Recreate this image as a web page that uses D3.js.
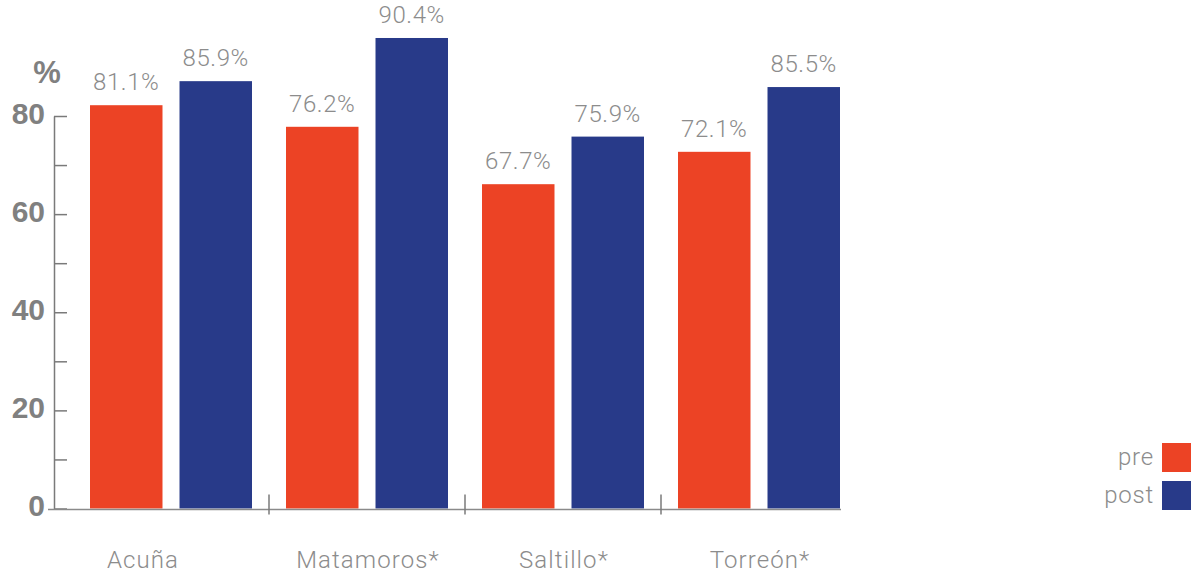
<!DOCTYPE html>
<html>
<head>
<meta charset="utf-8">
<script src="https://cdn.jsdelivr.net/npm/d3@7"></script>
<style>
  html, body { margin: 0; padding: 0; background: #fff; }
  svg { display: block; }
</style>
</head>
<body>
<svg id="chart" width="1199" height="577"></svg>
<script>
// ---- data ----
const categories = ["Acuña", "Matamoros*", "Saltillo*", "Torreón*"];
const seriesNames = ["pre", "post"];
// values printed above the bars
const preValues = [81.1, 76.2, 67.7, 72.1];
const postValues = [85.9, 90.4, 75.9, 85.5];
// bar heights as drawn in the picture (read against the axis)
const preBarHeights = [82.2, 77.8, 66.1, 72.7];
const postBarHeights = [87.1, 95.9, 75.8, 85.9];
const yTickValues = [0, 10, 20, 30, 40, 50, 60, 70, 80];
const yTickLabels = [0, 20, 40, 60, 80];
const yUnitLabel = "%";

const colors = { pre: "#ec4325", post: "#283a89" };
const textGray = "#8c8c8c";
const axisGray = "#7a7a7a";
const lightFont = "Roboto, 'Liberation Sans', sans-serif";

const svg = d3.select("#chart");

const y = d3.scaleLinear().domain([0, 80]).range([508.5, 116]);
const x0 = d3.scaleBand().domain(categories).range([73, 857]).paddingInner(0).paddingOuter(0);
const x1 = d3.scaleBand().domain(seriesNames).range([0, x0.bandwidth()]).paddingInner(0.19).paddingOuter(0.19);
const color = d3.scaleOrdinal().domain(seriesNames).range([colors.pre, colors.post]);

const rows = categories.map((c, i) => ({
  cat: c,
  bars: [
    { s: "pre", h: preBarHeights[i], v: preValues[i] },
    { s: "post", h: postBarHeights[i], v: postValues[i] }
  ]
}));

// bars
const groups = svg.append("g").selectAll("g").data(rows).join("g")
  .attr("transform", d => `translate(${x0(d.cat)},0)`);

groups.selectAll("rect").data(d => d.bars).join("rect")
  .attr("x", d => x1(d.s))
  .attr("width", x1.bandwidth())
  .attr("y", d => y(d.h))
  .attr("height", d => y(0) - y(d.h))
  .attr("fill", d => color(d.s));

const fmt = d3.format(".1f");
groups.selectAll("text.val").data(d => d.bars).join("text")
  .attr("class", "val")
  .attr("x", d => x1(d.s) + x1.bandwidth() / 2)
  .attr("y", d => y(d.h) - 15)
  .attr("text-anchor", "middle")
  .attr("font-family", lightFont)
  .attr("font-weight", 300)
  .attr("font-size", 24)
  .attr("letter-spacing", 0.6)
  .attr("fill", textGray)
  .text(d => fmt(d.v) + "%");

// y axis (ticks inside)
const yAxis = svg.append("g")
  .attr("transform", "translate(54,0)")
  .call(d3.axisRight(y).tickValues(yTickValues).tickSize(13).tickSizeOuter(0).tickFormat(""));
yAxis.select(".domain").attr("stroke", axisGray).attr("stroke-width", 1.5);
yAxis.selectAll(".tick line").attr("stroke", axisGray).attr("stroke-width", 1.5);

// y tick labels
const yLab = svg.append("g")
  .attr("transform", "translate(54,0)")
  .call(d3.axisLeft(y).tickValues(yTickLabels).tickSize(0).tickPadding(9));
yLab.select(".domain").remove();
yLab.selectAll("text")
  .attr("dy", "0.24em")
  .attr("font-family", "'Liberation Sans', Arial, sans-serif")
  .attr("font-weight", "bold")
  .attr("font-size", 30)
  .attr("fill", "#808080");

svg.append("text")
  .attr("x", 47).attr("y", 83)
  .attr("text-anchor", "middle")
  .attr("font-family", "'Liberation Sans', Arial, sans-serif")
  .attr("font-weight", "bold")
  .attr("font-size", 31)
  .attr("fill", "#808080")
  .text(yUnitLabel);

// x axis line
svg.append("line")
  .attr("x1", 48).attr("x2", x0.range()[1] - 16)
  .attr("y1", y(0) + 1).attr("y2", y(0) + 1)
  .attr("stroke", "#8a8a8a").attr("stroke-width", 1.5);

// group separators
svg.append("g").selectAll("line").data(categories.slice(1)).join("line")
  .attr("x1", d => x0(d)).attr("x2", d => x0(d))
  .attr("y1", y(0) - 14).attr("y2", y(0) + 6)
  .attr("stroke", axisGray).attr("stroke-width", 1.5);

// category labels
svg.append("g").selectAll("text").data(categories).join("text")
  .attr("x", (d, i) => x0(d) + x0.bandwidth() / 2 + (i === 0 ? -28 : 1))
  .attr("y", 568)
  .attr("text-anchor", "middle")
  .attr("font-family", lightFont)
  .attr("font-weight", 300)
  .attr("font-size", 24)
  .attr("letter-spacing", 1.1)
  .attr("fill", textGray)
  .text(d => d);

// legend
const legend = svg.append("g").selectAll("g").data(seriesNames).join("g")
  .attr("transform", (d, i) => `translate(1162,${443 + i * 38})`);
legend.append("rect")
  .attr("width", 29).attr("height", 29)
  .attr("fill", d => color(d));
legend.append("text")
  .attr("x", -8).attr("y", 22)
  .attr("text-anchor", "end")
  .attr("font-family", lightFont)
  .attr("font-weight", 300)
  .attr("font-size", 24)
  .attr("letter-spacing", 0.8)
  .attr("fill", textGray)
  .text(d => d);
</script>
</body>
</html>
